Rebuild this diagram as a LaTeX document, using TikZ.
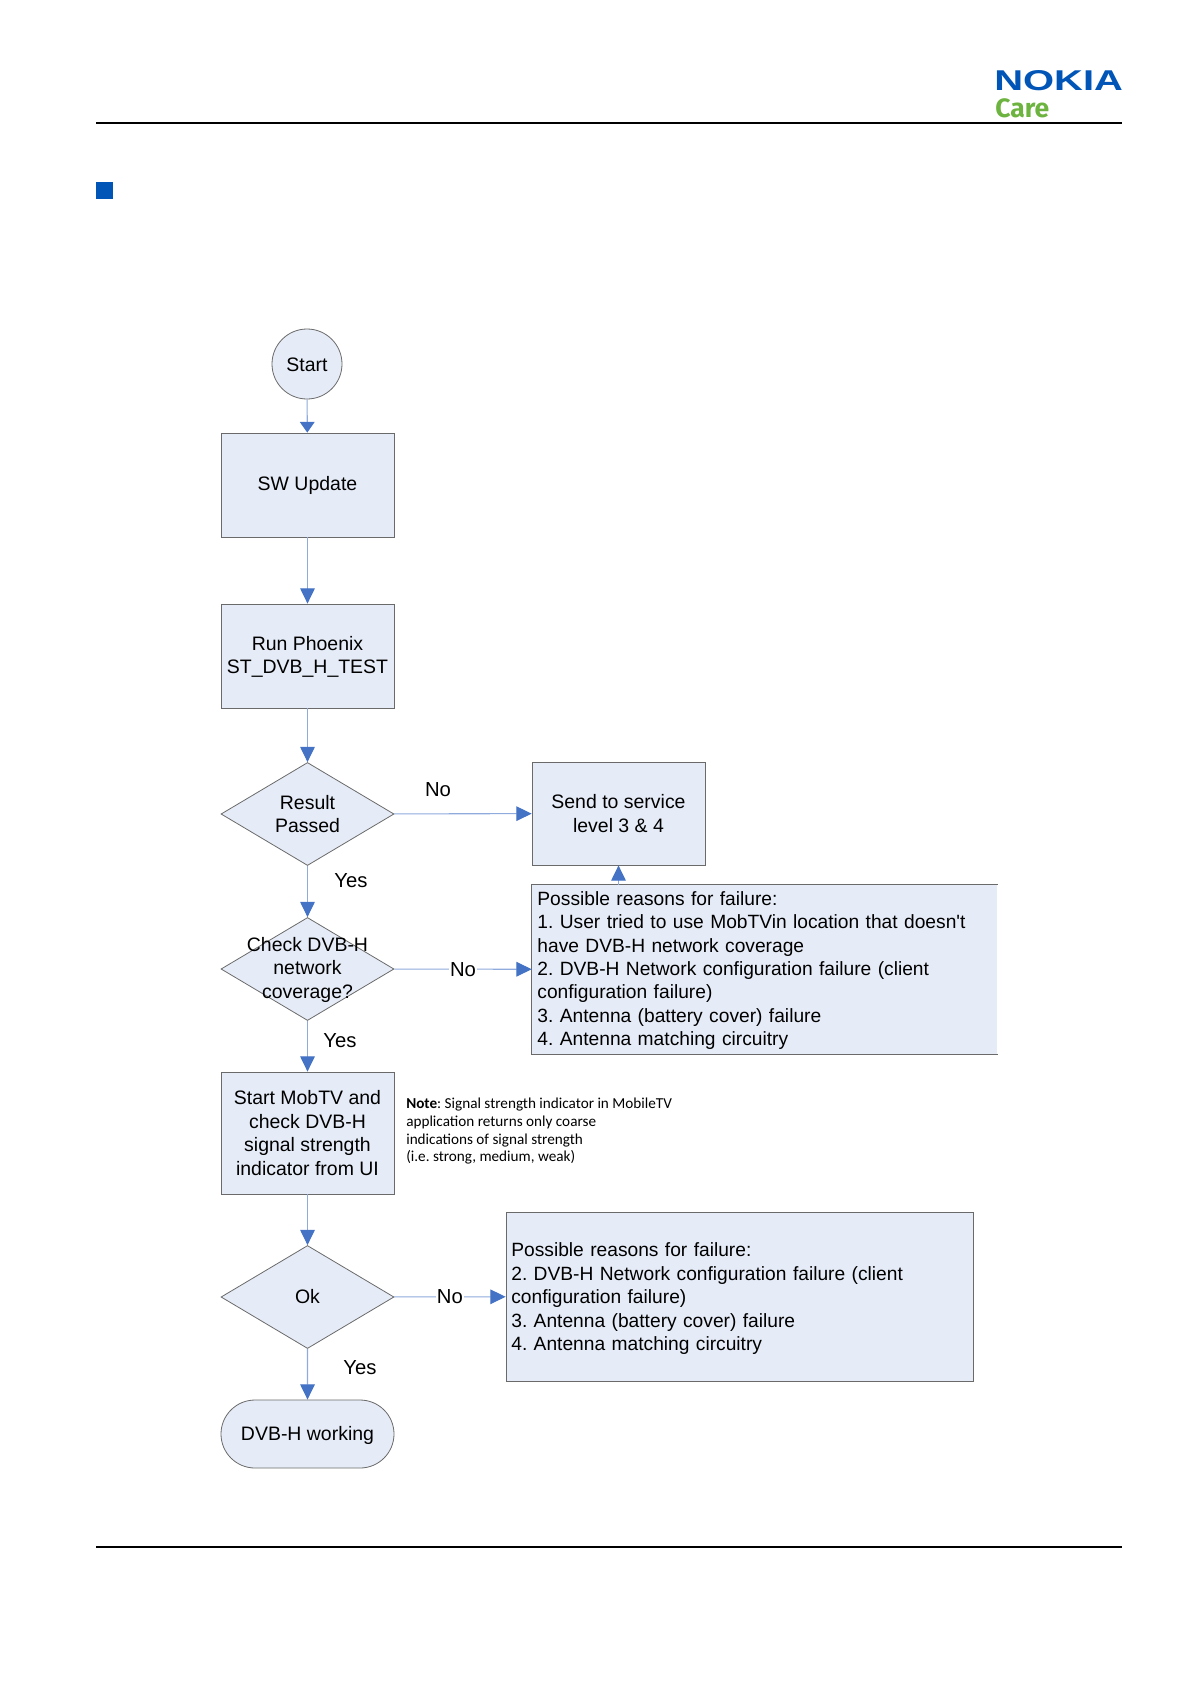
\documentclass[tikz,border=0pt]{standalone}
\usepackage{fontspec}
\setmainfont{Liberation Sans}
\newfontfamily\notefont{Carlito}
\newfontfamily\carefont{Fira Sans}
\usetikzlibrary{positioning}
\usetikzlibrary{arrows.meta}
\usetikzlibrary{shapes.geometric}
\usetikzlibrary{shapes.misc}
\definecolor{boxfill}{HTML}{E6ECF7}
\definecolor{boxline}{HTML}{6A6A6A}
\definecolor{linkline}{HTML}{8FAADC}
\definecolor{linktip}{HTML}{4472C4}
\definecolor{nokiablue}{HTML}{0055B7}
\definecolor{caregreen}{HTML}{6DB33F}
\frenchspacing
\tikzset{
	stepbox/.style={draw=boxline, fill=boxfill, line width=0.6pt, inner sep=0pt, minimum width=129.75pt, align=center, font=\fontsize{14.6}{17.6}\selectfont},
	reasonbox/.style={stepbox, align=left, inner xsep=4pt, font=\fontsize{14.4}{17.6}\selectfont},
	startcircle/.style={stepbox, circle, minimum width=52.5pt},
	decision/.style={stepbox, diamond, minimum width=129.75pt, minimum height=77.25pt},
	terminal/.style={stepbox, rounded rectangle, minimum height=51pt},
	link/.style={draw=linkline, line width=0.8pt, -{Triangle[width=11pt, length=11.5pt, color=linktip]}},
	shortlink/.style={draw=linkline, line width=0.8pt, -{Triangle[width=11pt, length=8pt, color=linktip]}},
	decisiontext/.style={inner sep=1pt, align=center, font=\fontsize{14.6}{17.6}\selectfont},
	answer/.style={inner sep=1pt, font=\fontsize{15.2}{17.6}\selectfont},
	rule/.style={line width=1.5pt, black}
}
\begin{document}
\begin{tikzpicture}[x=0.75pt, y=-0.75pt]
	\useasboundingbox (0,0) rectangle (1191,1684);
	% page furniture
	\draw[rule] (96,123) -- (1122,123);
	\draw[rule] (96,1547) -- (1122,1547);
	\fill[nokiablue] (96,182) rectangle (113,199);
	\node[anchor=south west, inner sep=0pt, text=nokiablue] (nokia) at (994,91) {\resizebox{96.5pt}{15pt}{\bfseries NOKIA}};
	\node[anchor=south west, inner sep=0pt, text=caregreen] (care) at (995,118) {\resizebox{40.5pt}{!}{\carefont\bfseries Care}};
	% left column
	\node[startcircle] (start) at (307,364) {\rule{0pt}{12pt}Start};
	\node[stepbox, minimum height=78pt] (update) at (307.5,485) {\rule{0pt}{12pt}SW Update};
	\node[stepbox, minimum height=78pt] (phoenix) at (307.5,656) {\rule{0pt}{12pt}Run Phoenix\\ST\_DVB\_H\_TEST};
	\node[decision, label={[decisiontext]center:Result\\Passed}] (result) at (307.5,814) {};
	\node[decision, label={[decisiontext]center:\rule{0pt}{12pt}Check DVB-H\\network\\coverage?}] (check) at (307.5,969) {};
	\node[stepbox, minimum height=91.5pt] (mobtv) at (307.5,1133) {Start MobTV and\\check DVB-H\\signal strength\\indicator from UI};
	\node[decision, label={[decisiontext]center:Ok}] (ok) at (307.5,1297) {};
	\node[terminal] (working) at (307.5,1434) {\rule{0pt}{13pt}DVB-H working};
	% right column
	\node[stepbox, minimum height=77.25pt] (send) at (618.5,813.5) {Send to service\\level 3 \& 4};
	% this box has no line on its right side
	\node[reasonbox, draw=none, text width=341pt, minimum height=126.75pt] (reasonsa) at (764.75,969.5) {\rule{0pt}{12pt}Possible reasons for failure:\\1. User tried to use MobTVin location that doesn\textquotesingle t\\have DVB-H network coverage\\2. DVB-H Network configuration failure (client\\configuration failure)\\3. Antenna (battery cover) failure\\4. Antenna matching circuitry};
	\draw[boxline, line width=0.6pt] (reasonsa.north east) -- (reasonsa.north west) -- (reasonsa.south west) -- (reasonsa.south east);
	\node[reasonbox, text width=342.25pt, minimum height=126.75pt] (reasonsb) at (739.5,1296.5) {\rule{0pt}{14pt}Possible reasons for failure:\\2. DVB-H Network configuration failure (client\\configuration failure)\\3. Antenna (battery cover) failure\\4. Antenna matching circuitry};
	\node[anchor=north west, inner sep=0pt, align=left, font=\fontsize{11.4}{13.2}\notefont] (note) at (406,1098) {\textbf{Note}: Signal strength indicator in MobileTV\\application returns only coarse\\indications of signal strength\\(i.e. strong, medium, weak)};
	% connectors
	\draw[shortlink] (start) -- (update);
	\draw[link] (update) -- (phoenix);
	\draw[link] (phoenix) -- (result);
	\draw[link] (result) -- (check);
	\draw[link] (check) -- (mobtv);
	\draw[link] (mobtv) -- (ok);
	\draw[link] (ok) -- (working);
	\draw[link] (result) -- (send);
	\draw[link] (check) -- node[answer, fill=white, midway] (noa) {No} (reasonsa);
	\draw[link] (ok) -- node[answer, fill=white, midway] (nob) {No} (reasonsb);
	\draw[link] (reasonsa.north -| send.south) -- (send.south);
	% free labels
	\node[answer] (nosend) at (438,790) {No};
	\node[answer] (yesa) at (351,881) {Yes};
	\node[answer] (yesb) at (340,1041) {Yes};
	\node[answer] (yesc) at (360,1368) {Yes};
\end{tikzpicture}
\end{document}
